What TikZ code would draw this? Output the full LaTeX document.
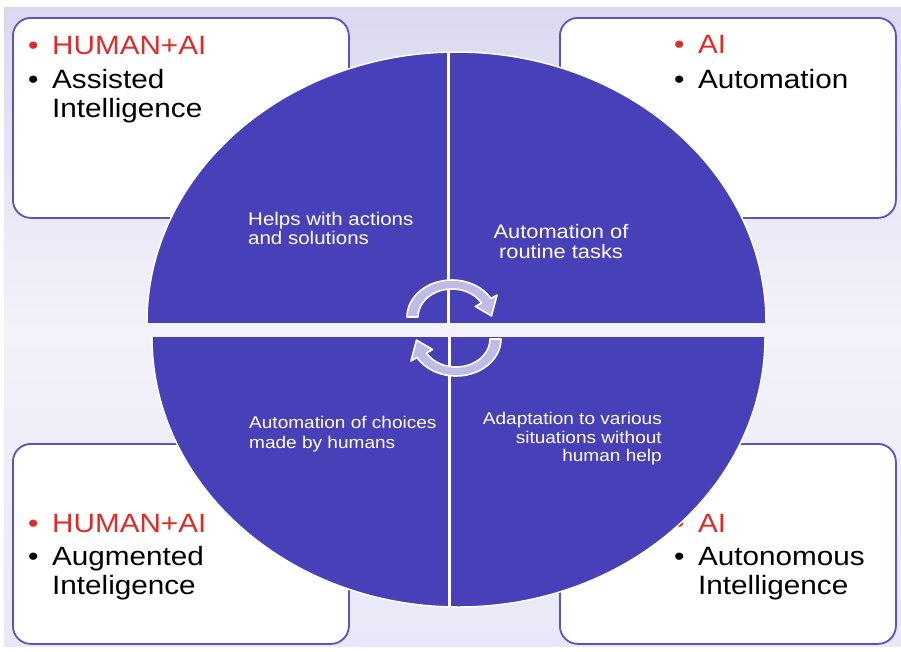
\documentclass[tikz,border=0pt]{standalone}
\usepackage{fontspec}
\setmainfont{Liberation Sans}[FakeStretch=1.12]
\usetikzlibrary{calc}
\definecolor{lavtop}{RGB}{219,217,240}
\definecolor{whitish}{RGB}{243,242,250}
\definecolor{lavbot}{RGB}{233,232,248}
\definecolor{pie}{RGB}{72,64,185}
\definecolor{boxline}{RGB}{92,82,196}
\definecolor{redt}{RGB}{222,44,40}
\definecolor{arrowf}{RGB}{190,188,230}
\newcommand\mybul{\makebox[24pt][l]{\textbullet}}
\begin{document}
\begin{tikzpicture}[x=1pt,y=-1pt,
  card/.style={draw=boxline,line width=1.8pt,fill=white,rounded corners=18pt,
    minimum width=336pt,minimum height=200pt,anchor=north west,inner sep=0pt},
  big/.style={font=\fontsize{26.5}{29}\selectfont,anchor=base west,inner sep=0pt},
  redline/.style={big,text=redt},
  small/.style={font=\fontsize{17}{19}\selectfont,text=white,inner sep=0pt},
  smalla/.style={font=\fontsize{18.3}{19.5}\selectfont,text=white,inner sep=0pt},
  smallb/.style={font=\fontsize{19.5}{20}\selectfont,text=white,inner sep=0pt},
  piece/.style={fill=pie,draw=white,line width=1.5pt},
  cyc/.style={fill=arrowf,draw=white,line width=1.6pt,line join=round}]
\useasboundingbox (0,0) rectangle (901,651);
% background
\fill[white] (0,0) rectangle (901,651);
\shade[top color=lavtop,bottom color=whitish] (4,7) rectangle (901,330);
\shade[top color=whitish,bottom color=lavbot] (4,330) rectangle (901,646);
% cards
\node[card] (tl) at (12,17) {};
\node[card] (tr) at (559,17) {};
\node[card] (bl) at (12,443) {};
\node[card] (br) at (559,443) {};
% card texts
\node[redline] (tl1) at (28,54) {\mybul HUMAN+AI};
\node[big] (tl2) at (28,88) {\mybul Assisted};
\node[big] (tl3) at (52,117) {Intelligence};
\node[redline] (tr1) at (674,53) {\mybul AI};
\node[big] (tr2) at (674,88) {\mybul Automation};
\node[redline] (bl1) at (28,532) {\mybul HUMAN+AI};
\node[big] (bl2) at (28,565) {\mybul Augmented};
\node[big] (bl3) at (52,594) {Inteligence};
\node[redline] (br1) at (674,532) {\mybul AI};
\node[big] (br2) at (674,565) {\mybul Autonomous};
\node[big] (br3) at (698,594) {Intelligence};
% pie top half
\begin{scope}
\clip (0,0) rectangle (901,322.5);
\path[piece] (456.5,322.5) ellipse [x radius=309.5, y radius=270.5];
\end{scope}
% pie bottom half
\begin{scope}
\clip (0,337) rectangle (901,651);
\path[piece] (458.5,337) ellipse [x radius=306.5, y radius=270];
\end{scope}
\draw[white,line width=3pt] (448,53) -- (448,322.5);
\draw[white,line width=3pt] (449,337) -- (449,606);
% quadrant texts
\node[smalla,anchor=base west] (q1a) at (248,225) {Helps with actions};
\node[smalla,anchor=base west] (q1b) at (248,244) {and solutions};
\node[smallb,anchor=base] (q2a) at (561,238) {Automation of};
\node[smallb,anchor=base] (q2b) at (561,258) {routine tasks};
\node[small,anchor=base west] (q3a) at (249,428) {Automation of choices};
\node[small,anchor=base west] (q3b) at (249,448) {made by humans};
\node[small,anchor=base east] (q4a) at (662,424) {Adaptation to various};
\node[small,anchor=base east] (q4b) at (662,443) {situations without};
\node[small,anchor=base east] (q4c) at (662,461) {human help};
% cycle arrows
\coordinate (c1) at (452,317);
\coordinate (c2) at (456,339);
\path[cyc] (c1) ++(180:45 and 37) arc[start angle=180,end angle=330,x radius=45,y radius=37]
  -- ($(c1)+(330:52 and 44)$) -- ($(c1)+(358:39.5 and 32.5)$)
  -- ($(c1)+(330:27 and 21)$) -- ($(c1)+(330:34 and 28)$)
  arc[start angle=330,end angle=180,x radius=34,y radius=28] -- cycle;
\path[cyc] (c2) ++(0:45 and 37) arc[start angle=0,end angle=150,x radius=45,y radius=37]
  -- ($(c2)+(150:52 and 44)$) -- ($(c2)+(178:39.5 and 32.5)$)
  -- ($(c2)+(150:27 and 21)$) -- ($(c2)+(150:34 and 28)$)
  arc[start angle=150,end angle=0,x radius=34,y radius=28] -- cycle;
\end{tikzpicture}
\end{document}
